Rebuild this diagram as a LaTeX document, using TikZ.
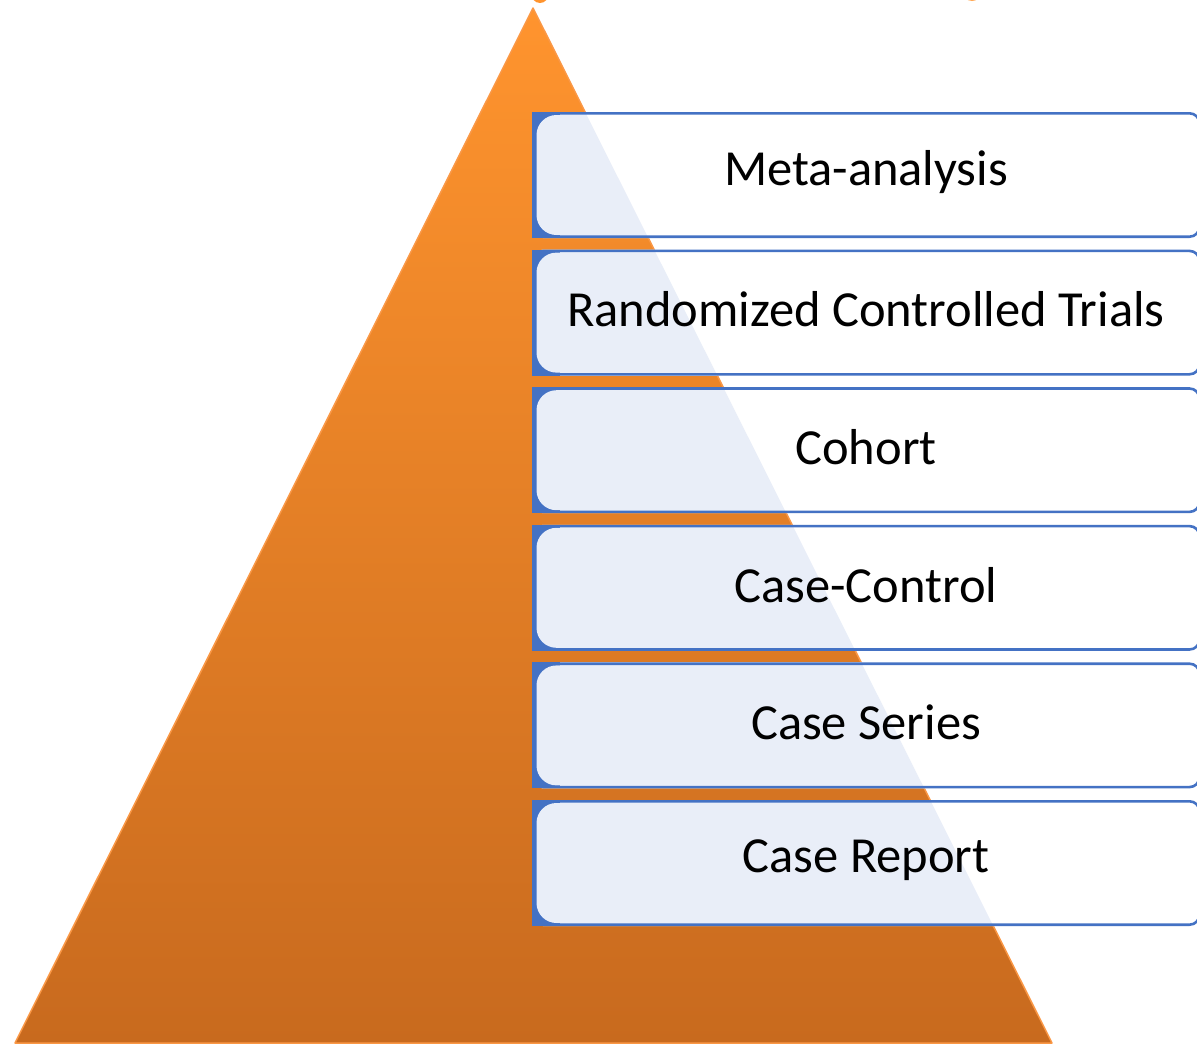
\documentclass[tikz,border=0pt]{standalone}
\usepackage{fontspec}
\setmainfont{Carlito}
\usetikzlibrary{positioning}

\definecolor{pyrtop}{RGB}{255,148,46}
\definecolor{pyrbot}{RGB}{200,106,30}
\definecolor{pyredge}{RGB}{250,152,70}
\definecolor{boxblue}{RGB}{68,114,196}
\definecolor{boxfill}{RGB}{233,238,248}

\tikzset{
  levelborder/.style={draw=boxblue,line width=2.6pt,rounded corners=10pt},
  leveltext/.style={font=\fontsize{50.5}{58}\selectfont,text=black,inner sep=0pt}
}

\begin{document}
\begin{tikzpicture}[x=1pt,y=-1pt]
			\useasboundingbox (0,0) rectangle (1197,1045);
			\coordinate (apex) at (533,8);
			\coordinate (bl) at (15,1043);
			\coordinate (br) at (1052,1043);
			
			% bits of the cut-off title
			\fill[pyrtop] (540,-7) ellipse (9 and 10);
			\fill[pyrtop!80] (972,-9) ellipse (10 and 10);
			
			% Pyramid
			\shade[top color=pyrtop,bottom color=pyrbot] (apex) -- (br) -- (bl) -- cycle;
			\draw[pyredge,line width=1.5pt,line join=round] (apex) -- (br) -- (bl) -- cycle;
			
			% Levels
			\foreach \lbl [count=\i from 0] in {Meta-analysis,Randomized Controlled Trials,Cohort,Case-Control,Case Series,Case Report}{
				\pgfmathsetmacro{\t}{112+137.6*\i}
				\pgfmathsetmacro{\b}{\t+126}
				\fill[white,rounded corners=10pt] (533,\t) rectangle (1200,\b);
				\begin{scope}
					\clip (apex) -- (br) -- (bl) -- cycle;
					\fill[boxfill] (533,\t) rectangle (1200,\b);
				\end{scope}
				\fill[boxblue] (532,\t) rectangle (560,\b);
				\fill[boxfill,rounded corners=20pt] (536.5,\t+3) rectangle (580,\b-3);
				\draw[levelborder] (533.5,\t+1.3) rectangle (1199.5,\b-1.3);
				\node[leveltext] (lvl\i) at (866,\t+60) {\lbl};
			}
		\end{tikzpicture}
\end{document}
